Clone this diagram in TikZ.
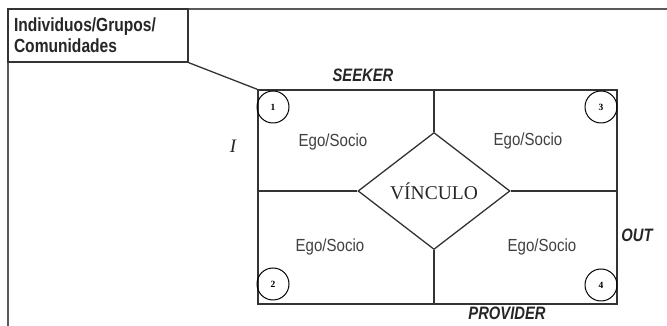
\documentclass[tikz,border=0pt]{standalone}
\usepackage{fontspec}
\setmainfont{Liberation Serif}
\setsansfont{Liberation Sans}
\newfontfamily\narrowsans[FakeStretch=0.82]{Liberation Sans}
\newfontfamily\egosans[FakeStretch=0.86]{Liberation Sans}
\usetikzlibrary{shapes}

\begin{document}
\begin{tikzpicture}[x=1pt, y=1pt]
\tikzstyle{LineStyle}=[line width=1.3pt, draw=black!80]
\tikzstyle{EgoStyle}=[font=\egosans\fontsize{17.5}{20}\selectfont, text=black!75]
\tikzstyle{RoleStyle}=[font=\narrowsans\bfseries\itshape\fontsize{18}{20}\selectfont, text=black!85]
\tikzstyle{NumStyle}=[shape = circle, draw, line width=1pt, minimum size=32pt, inner sep=0pt,
font=\bfseries\fontsize{9.5}{10}\selectfont]
\useasboundingbox (0,0) rectangle (667,326);
\draw[LineStyle, draw=black!65] (667,317) -| (8,0);
\node[LineStyle, draw, shape = rectangle, minimum width=180pt, minimum height=53pt, text width=168pt,
align=left, inner xsep=6pt, inner ysep=3pt, font=\narrowsans\bfseries\fontsize{19}{21}\selectfont, text=black!85] (grupos) at (98,290.5)
{Individuos/Grupos/\\Comunidades};
\node[LineStyle, draw, shape = rectangle, minimum width=359pt, minimum height=214pt, inner sep=0pt] (grid) at (437.5,129) {};
\node[LineStyle, draw, shape = diamond, minimum width=152pt, minimum height=117pt, inner sep=0pt,
font=\fontsize{19.5}{24}\selectfont, text=black!85] (vinculo) at (434,135) {VÍNCULO};
\draw[LineStyle] (vinculo.north) -- (vinculo.north |- grid.north);
\draw[LineStyle] (vinculo.south) -- (vinculo.south |- grid.south);
\draw[LineStyle] (vinculo.west) -- (vinculo.west -| grid.west);
\draw[LineStyle] (vinculo.east) -- (vinculo.east -| grid.east);
\draw[LineStyle] (grupos.south east) -- (grid.north west);
\node[NumStyle] (n1) at (273,219) {1};
\node[NumStyle] (n2) at (273,42) {2};
\node[NumStyle] (n3) at (601,219) {3};
\node[NumStyle] (n4) at (601,41) {4};
\node[EgoStyle] (ego1) at (333,184) {Ego/Socio};
\node[EgoStyle] (ego3) at (528,185) {Ego/Socio};
\node[EgoStyle] (ego2) at (330,79) {Ego/Socio};
\node[EgoStyle] (ego4) at (542,79) {Ego/Socio};
\node[RoleStyle] (seeker) at (363,251) {SEEKER};
\node[RoleStyle] (provider) at (507,13) {PROVIDER};
\node[RoleStyle] (out) at (637,91) {OUT};
\node[font=\itshape\fontsize{19}{22}\selectfont, text=black!85] (in) at (233,180) {I};
\end{tikzpicture}
\end{document}
